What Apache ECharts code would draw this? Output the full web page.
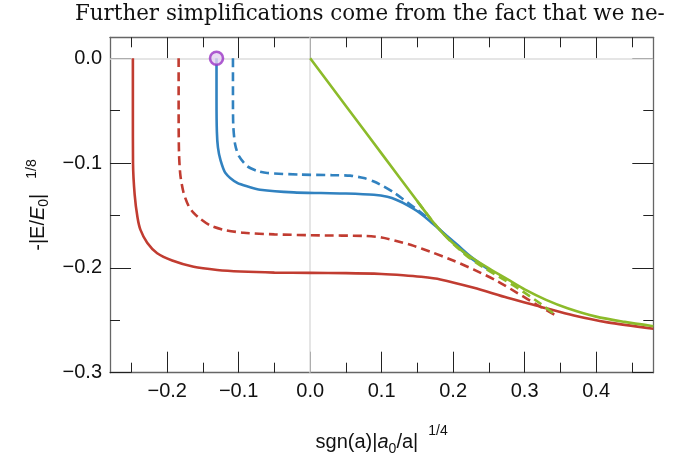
<!DOCTYPE html>
<html>
<head>
<meta charset="utf-8">
<script src="https://cdn.jsdelivr.net/npm/echarts@6/dist/echarts.min.js"></script>
<style>
  html, body { margin: 0; padding: 0; background: #fff; }
  #chart { width: 680px; height: 455px; }
</style>
</head>
<body>
<div id="chart"></div>
<script>
// axis ranges and ticks
var xMin = -0.28, xMax = 0.48
var yMin = -0.3, yMax = 0.02
var xMajor = [-0.2, -0.1, 0, 0.1, 0.2, 0.3, 0.4]
var xMinor = [-0.25, -0.15, -0.05, 0.05, 0.15, 0.25, 0.35, 0.45]
var yMajor = [-0.3, -0.2, -0.1, 0]
var yMinor = [-0.25, -0.15, -0.05]

// curves, [x, y]
var redSolid = [
    [-0.248, 0], [-0.248, -0.05], [-0.2478, -0.1], [-0.2455, -0.13], [-0.2415, -0.152],
    [-0.2375, -0.1635], [-0.228, -0.176], [-0.214, -0.186], [-0.193, -0.193],
    [-0.163, -0.199], [-0.13, -0.202], [-0.0975, -0.2035], [-0.05, -0.2045],
    [0, -0.2048], [0.05, -0.205], [0.1, -0.2058], [0.13, -0.207], [0.155, -0.2085],
    [0.182, -0.211], [0.229, -0.219], [0.276, -0.2286], [0.322, -0.237],
    [0.369, -0.2455], [0.416, -0.252], [0.48, -0.258]
]
var redDashed = [
    [-0.184, 0], [-0.184, -0.05], [-0.1835, -0.09], [-0.1815, -0.112], [-0.177, -0.1286],
    [-0.17, -0.141], [-0.163, -0.1476], [-0.156, -0.152], [-0.14, -0.1595],
    [-0.12, -0.1638], [-0.093, -0.1665], [-0.05, -0.168], [0.014, -0.169],
    [0.075, -0.1695], [0.1, -0.171], [0.122, -0.1745], [0.145, -0.179], [0.168, -0.1845],
    [0.2, -0.193], [0.229, -0.2016], [0.262, -0.2127], [0.29, -0.224],
    [0.318, -0.2355], [0.345, -0.246]
]
var blueSolid = [
    [-0.131, 0], [-0.131, -0.04], [-0.1305, -0.07], [-0.129, -0.085], [-0.1255, -0.097],
    [-0.1185, -0.1095], [-0.102, -0.119], [-0.085, -0.1228], [-0.07, -0.1254],
    [-0.023, -0.128], [0.015, -0.1286], [0.05, -0.129], [0.089, -0.1302],
    [0.108, -0.1322], [0.122, -0.1355], [0.137, -0.1405], [0.15, -0.146],
    [0.166, -0.1545], [0.182, -0.164], [0.205, -0.1775], [0.225, -0.1895],
    [0.25, -0.2018]
]
var blueDashed = [
    [-0.108, 0], [-0.108, -0.04], [-0.1075, -0.065], [-0.105, -0.082], [-0.1, -0.093],
    [-0.088, -0.103], [-0.074, -0.1075], [-0.06, -0.1095], [-0.014, -0.111],
    [0.03, -0.1115], [0.056, -0.112], [0.075, -0.1143], [0.09, -0.1178],
    [0.103, -0.1223], [0.118, -0.1285], [0.131, -0.135], [0.148, -0.1435],
    [0.164, -0.152], [0.18, -0.1625], [0.2, -0.1758], [0.22, -0.1882], [0.24, -0.1978]
]
var greenSolid = [
    [0, 0], [0.05, -0.0455], [0.1, -0.091], [0.15, -0.1365], [0.17, -0.1545],
    [0.185, -0.1665], [0.2, -0.1765], [0.22, -0.1875], [0.25, -0.2005],
    [0.28, -0.2125], [0.3, -0.2205], [0.33, -0.2305], [0.36, -0.2385],
    [0.4, -0.2465], [0.44, -0.2515], [0.48, -0.2556]
]
var greenDashed = [
    [0.15, -0.1365], [0.17, -0.1545], [0.185, -0.1665], [0.2, -0.177],
    [0.22, -0.189], [0.243, -0.1998], [0.265, -0.2088], [0.285, -0.217],
    [0.305, -0.226], [0.322, -0.234], [0.345, -0.2458]
]
var marker = [[-0.131, 0]]

var RED = "#c13c31"
var BLUE = "#3182c0"
var GREEN = "#8cbb2a"

function tickText(v) {
    return v.toFixed(1).replace("-", "\u2212")
}

var labelFont = "Liberation Sans"

function axisPair(dim, pos, major, minor, withLabels) {
    var base = dim === "x" ? { min: xMin, max: xMax } : { min: yMin, max: yMax }
    var majorAxis = {
        type: "value",
        min: base.min,
        max: base.max,
        position: pos,
        axisLine: { show: true, onZero: false, lineStyle: { color: "#666", width: 1.3 } },
        axisTick: { show: true, inside: true, length: 21, customValues: major, lineStyle: { color: "#222", width: 1 } },
        axisLabel: withLabels
            ? { show: true, customValues: major, formatter: tickText, fontSize: 20, color: "#111", fontFamily: labelFont, margin: dim === "x" ? 9 : 8 }
            : { show: false },
        splitLine: { show: false }
    }
    var minorAxis = {
        type: "value",
        min: base.min,
        max: base.max,
        position: pos,
        axisLine: { show: false, onZero: false },
        axisTick: { show: true, inside: true, length: 10, customValues: minor, lineStyle: { color: "#222", width: 1 } },
        axisLabel: { show: false },
        splitLine: { show: false }
    }
    return [majorAxis, minorAxis]
}

var xAxes = axisPair("x", "bottom", xMajor, xMinor, true).concat(axisPair("x", "top", xMajor, xMinor, false))
var yAxes = axisPair("y", "left", yMajor, yMinor, true).concat(axisPair("y", "right", yMajor, yMinor, false))

// supDrop pushes the superscript towards the baseline, supGap is the space before it
function nameStyle(supGap, supDrop) {
    return {
        fontFamily: labelFont, fontSize: 20, color: "#111",
        rich: {
            n: { fontFamily: labelFont, fontSize: 20, color: "#111", lineHeight: 30, verticalAlign: "bottom" },
            i: { fontFamily: labelFont, fontSize: 20, fontStyle: "italic", color: "#111", lineHeight: 30, verticalAlign: "bottom" },
            sub: { fontFamily: labelFont, fontSize: 14, color: "#111", lineHeight: 24, verticalAlign: "bottom", padding: [0, 0, -3, 0] },
            sup: { fontFamily: labelFont, fontSize: 14, color: "#111", lineHeight: 16, verticalAlign: "top", padding: [supDrop, 0, 0, supGap] }
        }
    }
}
xAxes[0].name = "{n|sgn(a)|}{i|a}{sub|0}{n|/a|}{sup|1/4}"
xAxes[0].nameLocation = "middle"
xAxes[0].nameGap = 50
xAxes[0].nameTextStyle = nameStyle(10, 1)
yAxes[0].name = "{n|-|E/}{i|E}{sub|0}{n||}{sup|1/8}"
yAxes[0].nameLocation = "middle"
yAxes[0].nameGap = 57
yAxes[0].nameTextStyle = nameStyle(15, 7)

function lineSeries(name, data, color, dashed, z) {
    return {
        name: name,
        type: "line",
        xAxisIndex: 0,
        yAxisIndex: 0,
        data: data,
        showSymbol: false,
        symbol: "none",
        smooth: 0.25,
        z: z,
        lineStyle: { color: color, width: 2.6, type: dashed ? [9, 5] : "solid", cap: "butt" }
    }
}

var chart = echarts.init(document.getElementById("chart"))
var option = {
    animation: false,
    graphic: [{
        type: "text",
        left: 75,
        top: 4,
        style: {
            text: "Further simplifications come from the fact that we ne-",
            font: "21.4px 'DejaVu Serif'",
            fill: "#111"
        }
    }],
    grid: { left: 110, top: 37.3, right: 26.7, bottom: 82.3, containLabel: false, outerBoundsMode: "none" },
    xAxis: xAxes,
    yAxis: yAxes,
    series: [
        Object.assign(lineSeries("red", redSolid, RED, false, 2), {
            markLine: {
                silent: true,
                symbol: ["none", "none"],
                label: { show: false },
                lineStyle: { color: "#dcdcdc", width: 1.5, type: "solid" },
                data: [{ xAxis: 0 }, { yAxis: 0 }],
                z: 1
            }
        }),
        lineSeries("red dashed", redDashed, RED, true, 3),
        lineSeries("blue", blueSolid, BLUE, false, 4),
        lineSeries("blue dashed", blueDashed, BLUE, true, 5),
        lineSeries("green dashed", greenDashed, GREEN, true, 6),
        lineSeries("green", greenSolid, GREEN, false, 7),
        {
            name: "marker",
            type: "scatter",
            xAxisIndex: 0,
            yAxisIndex: 0,
            data: marker,
            symbolSize: 13,
            z: 10,
            itemStyle: { color: "#e3d3f0", borderColor: "#9b35c6", borderWidth: 2.6 }
        }
    ]
}
chart.setOption(option)
</script>
</body>
</html>
